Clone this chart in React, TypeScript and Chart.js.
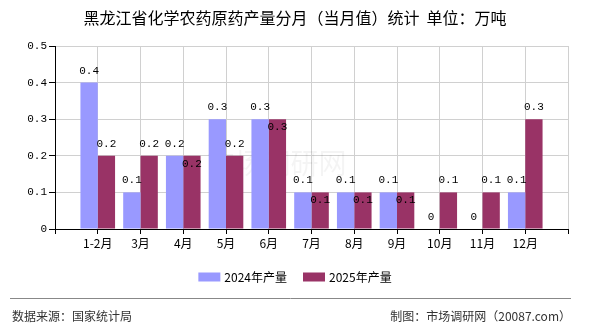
import React, { useEffect, useRef } from 'react';
import { Chart, registerables } from 'chart.js';

Chart.register(...registerables);

const titleText = '黑龙江省化学农药原药产量分月（当月值）统计  单位：万吨';
const sourceText = '数据来源：国家统计局';
const creditText = '制图：市场调研网（20087.com）';
const watermarkText = '市场调研网';

const months = ['1-2月', '3月', '4月', '5月', '6月', '7月', '8月', '9月', '10月', '11月', '12月'];
const output2024 = [0.4, 0.1, 0.2, 0.3, 0.3, 0.1, 0.1, 0.1, 0, 0, 0.1];
const output2025 = [0.2, 0.2, 0.2, 0.2, 0.3, 0.1, 0.1, 0.1, 0.1, 0.1, 0.3];
const seriesNames = ['2024年产量', '2025年产量'];
const seriesColors = ['#9999ff', '#993366'];
const yMin = 0;
const yMax = 0.5;
const yStep = 0.1;

const CJK = '"Noto Sans CJK SC", "Noto Sans", sans-serif';
const MONO = '"Liberation Mono", "DejaVu Sans Mono", monospace';

// The month axis has an empty slot before the first month and after the last,
// so each month sits on a grid line with its two bars on either side.
const axisLabels = ['', ...months, ''];
const pad = (arr: number[]) => [null, ...arr, null];

const fmt = (v: number) => (Math.round(v * 10) / 10).toString();

const valueLabels = {
  id: 'valueLabels',
  afterDatasetsDraw(chart: any) {
    const ctx = chart.ctx;
    ctx.save();
    ctx.font = `11px ${MONO}`;
    ctx.fillStyle = '#000';
    ctx.textAlign = 'center';
    ctx.textBaseline = 'middle';
    const first = chart.data.datasets[0].data;
    chart.data.datasets.forEach((ds: any, di: number) => {
      const meta = chart.getDatasetMeta(di);
      meta.data.forEach((bar: any, i: number) => {
        const v = ds.data[i];
        if (v == null) return;
        // when both years share a value, the second label drops into its bar
        const inside = di === 1 && first[i] === v && v > 0;
        const y = inside ? bar.y + 8 : bar.y - 12;
        ctx.fillText(fmt(v), bar.x, y);
      });
    });
    ctx.restore();
  },
};

const chrome = {
  id: 'chrome',
  beforeDatasetsDraw(chart: any) {
    const { ctx, chartArea } = chart;
    ctx.save();
    ctx.font = `28px ${CJK}`;
    ctx.fillStyle = 'rgba(0,0,0,0.045)';
    ctx.textAlign = 'center';
    ctx.textBaseline = 'middle';
    ctx.fillText(watermarkText, (chartArea.left + chartArea.right) / 2 - 35, chartArea.top + 117);
    ctx.restore();
  },
  afterDraw(chart: any) {
    const { ctx, width } = chart;
    ctx.save();
    // title
    ctx.font = `16px ${CJK}`;
    ctx.fillStyle = '#000';
    ctx.textAlign = 'center';
    ctx.textBaseline = 'middle';
    ctx.fillText(titleText, width / 2, 18);

    // legend
    ctx.font = `12px ${CJK}`;
    ctx.textAlign = 'left';
    const boxW = 22;
    const boxH = 9;
    const gap = 4;
    const itemGap = 16;
    const widths = seriesNames.map((n) => boxW + gap + ctx.measureText(n).width);
    const total = widths.reduce((a, b) => a + b, 0) + itemGap * (widths.length - 1);
    let x = width / 2 - total / 2;
    const ly = 277;
    seriesNames.forEach((n, i) => {
      ctx.fillStyle = seriesColors[i];
      ctx.fillRect(x, ly - boxH / 2, boxW, boxH);
      ctx.fillStyle = '#000';
      ctx.fillText(n, x + boxW + gap, ly);
      x += widths[i] + itemGap;
    });

    // footer
    ctx.strokeStyle = '#888';
    ctx.lineWidth = 1;
    ctx.beginPath();
    ctx.moveTo(10, 298.5);
    ctx.lineTo(571, 298.5);
    ctx.stroke();
    ctx.fillStyle = '#333';
    ctx.font = `12px ${CJK}`;
    ctx.textAlign = 'left';
    ctx.fillText(sourceText, 12, 316);
    ctx.textAlign = 'right';
    ctx.fillText(creditText, 571, 316);
    ctx.restore();
  },
};

export default function App() {
  const ref = useRef<HTMLCanvasElement | null>(null);

  useEffect(() => {
    if (!ref.current) return;
    const chart = new Chart(ref.current, {
      type: 'bar',
      data: {
        labels: axisLabels,
        datasets: [
          {
            label: seriesNames[0],
            data: pad(output2024),
            backgroundColor: seriesColors[0],
            categoryPercentage: 0.81,
            barPercentage: 1,
          },
          {
            label: seriesNames[1],
            data: pad(output2025),
            backgroundColor: seriesColors[1],
            categoryPercentage: 0.81,
            barPercentage: 1,
          },
        ],
      },
      options: {
        responsive: false,
        animation: false,
        devicePixelRatio: 1,
        layout: { padding: { top: 46, right: 22, left: 0, bottom: 0 } },
        plugins: {
          legend: { display: false },
          title: { display: false },
          tooltip: { enabled: false },
        },
        scales: {
          x: {
            type: 'category',
            offset: false,
            grid: {
              offset: false,
              color: '#d0d0d0',
              tickColor: '#000',
              tickLength: 5,
            },
            border: { color: '#000' },
            ticks: {
              autoSkip: false,
              maxRotation: 0,
              padding: 2,
              color: '#000',
              font: { family: CJK, size: 12 },
            },
            afterFit(s: any) {
              s.height = 101;
            },
          },
          y: {
            min: yMin,
            max: yMax,
            grid: {
              color: '#d0d0d0',
              tickColor: '#000',
              tickLength: 6,
            },
            border: { color: '#000' },
            ticks: {
              stepSize: yStep,
              padding: 2,
              color: '#000',
              font: { family: MONO, size: 11 },
              callback: (v: any) => fmt(Number(v)),
            },
            afterFit(s: any) {
              s.width = 55;
            },
          },
        },
      },
      plugins: [chrome, valueLabels],
    });
    return () => chart.destroy();
  }, []);

  return (
    <div style={{ position: 'absolute', left: 0, top: 0, width: 590, height: 330, background: '#fff' }}>
      <canvas ref={ref} width={590} height={330} />
    </div>
  );
}
